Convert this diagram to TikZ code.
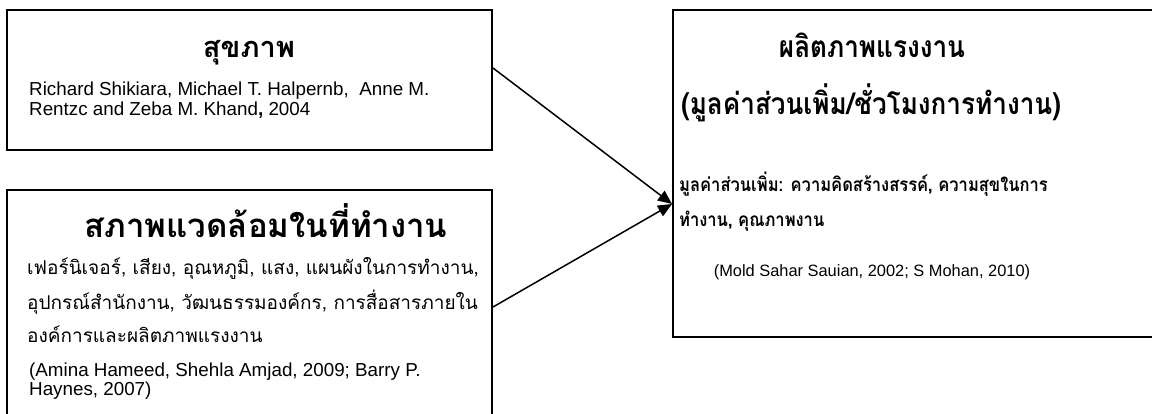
\documentclass[tikz,border=0pt]{standalone}
\usepackage{fontspec}
\setmainfont{Liberation Sans}
\newfontfamily\thai[Script=Thai]{Loma}
\newfontfamily\thaicond[Script=Thai,FakeStretch=0.87]{Loma}
\usetikzlibrary{arrows.meta}
\begin{document}
\begin{tikzpicture}[x=1pt,y=-1pt,
  box/.style={draw=black,line width=2pt,inner sep=0pt},
  ttl/.style={inner sep=0pt,anchor=base,font=\thai\bfseries\fontsize{29}{34}\selectfont},
  ttlc/.style={inner sep=0pt,anchor=base,font=\thaicond\bfseries\fontsize{30}{34}\selectfont},
  thbody/.style={inner sep=0pt,anchor=base west,font=\thai\fontsize{19}{22}\selectfont},
  thbold/.style={inner sep=0pt,anchor=base west,font=\thaicond\bfseries\fontsize{19}{22}\selectfont},
  lat/.style={inner sep=0pt,anchor=base west,font=\fontsize{18.8}{21}\selectfont},
  latc/.style={inner sep=0pt,anchor=base,font=\fontsize{16.4}{19}\selectfont},
  arr/.style={line width=1.5pt,-{Triangle[length=14pt,width=12pt]}}]
\useasboundingbox (0,0) rectangle (1152,414);
\clip (0,0) rectangle (1152,414);
\fill[white] (0,0) rectangle (1152,414);
\node[box,minimum width=485pt,minimum height=140pt] (b1) at (249.5,80) {};
\node[box,minimum width=485pt,minimum height=250pt] (b2) at (249.5,315) {};
\node[box,minimum width=487pt,minimum height=327pt] (b3) at (916.5,173.5) {};
% box 1
\node[ttl] (t1) at (249,58) {สุขภาพ};
\node[lat] (r1) at (29,96) {Richard Shikiara, Michael T. Halpernb,\ \ Anne M.};
\node[lat] (r2) at (29,116) {Rentzc and Zeba M. Khand\textbf{,} 2004};
% box 2
\node[ttl,font=\thai\bfseries\fontsize{33}{36}\selectfont] (t2) at (266,238) {สภาพแวดล้อมในที่ทำงาน};
\node[thbody] (b21) at (27,275) {เฟอร์นิเจอร์, เสียง, อุณหภูมิ, แสง, แผนผังในการทำงาน,};
\node[thbody] (b22) at (27,309) {อุปกรณ์สำนักงาน, วัฒนธรรมองค์กร, การสื่อสารภายใน};
\node[thbody] (b23) at (27,342) {องค์การและผลิตภาพแรงงาน};
\node[lat] (c21) at (29,376) {(Amina Hameed, Shehla Amjad, 2009; Barry P.};
\node[lat] (c22) at (29,395) {Haynes, 2007)};
% box 3
\node[ttlc] (t31) at (872,58) {ผลิตภาพแรงงาน};
\node[ttlc] (t32) at (871,115) {(มูลค่าส่วนเพิ่ม/ชั่วโมงการทำงาน)};
\node[thbold] (b31) at (679,192) {มูลค่าส่วนเพิ่ม: ความคิดสร้างสรรค์, ความสุขในการ};
\node[thbold] (b32) at (679,227) {ทำงาน, คุณภาพงาน};
\node[latc] (c3) at (872,277) {(Mold Sahar Sauian, 2002; S Mohan, 2010)};
% arrows
\draw[arr] ([yshift=12pt]b1.east) -- ([yshift=-30.5pt]b3.west);
\draw[arr] ([yshift=8pt]b2.east) -- ([yshift=-30.5pt]b3.west);
\end{tikzpicture}
\end{document}
